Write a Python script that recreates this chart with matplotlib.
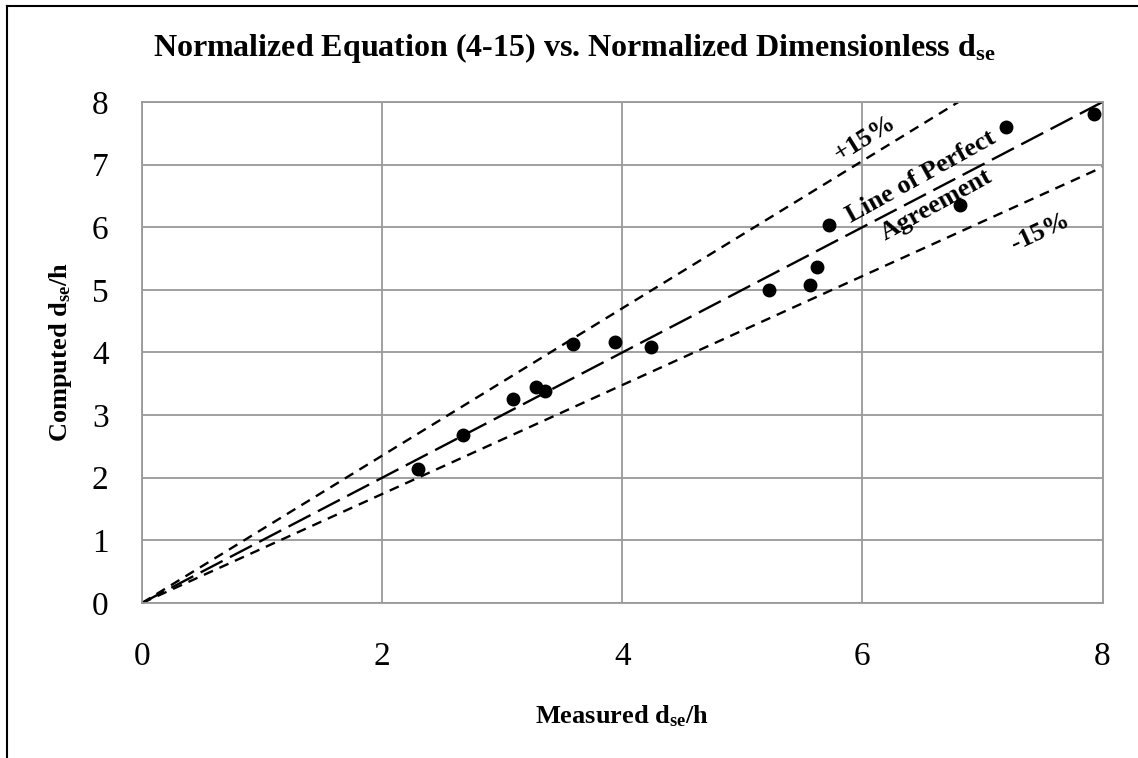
import matplotlib
matplotlib.use("Agg")
import matplotlib.pyplot as plt
from matplotlib.lines import Line2D

# measured vs computed d_se/h
measured = [2.30, 2.67, 3.09, 3.28, 3.36, 3.59, 3.94, 4.24, 5.22, 5.56, 5.62, 5.72, 6.81, 7.20, 7.93]
computed = [2.14, 2.68, 3.26, 3.45, 3.39, 4.14, 4.17, 4.08, 5.00, 5.08, 5.36, 6.04, 6.36, 7.60, 7.81]

# reference lines (end points)
perfect_x = [0, 8]
perfect_y = [0, 8]
plus15_x = [0, 6.8]
plus15_y = [0, 8]
minus15_x = [0, 8]
minus15_y = [0, 6.96]

ticks_x = [0, 2, 4, 6, 8]
ticks_y = [0, 1, 2, 3, 4, 5, 6, 7, 8]

plt.rcParams['font.family'] = ['Liberation Serif', 'DejaVu Serif']
plt.rcParams['mathtext.fontset'] = 'custom'
plt.rcParams['mathtext.rm'] = 'Liberation Serif'
plt.rcParams['mathtext.bf'] = 'Liberation Serif:bold'

W, H = 1138, 758
fig = plt.figure(figsize=(W / 100, H / 100), dpi=100)
ax = fig.add_axes([142 / W, 1 - 603 / H, (1102.5 - 142) / W, (603 - 102) / H])

grid_c = '#999999'
ax.grid(True, color=grid_c, lw=1.3)
ax.set_axisbelow(True)
for s in ax.spines.values():
    s.set_color(grid_c)
    s.set_linewidth(1.3)

ax.set_xlim(0, 8)
ax.set_ylim(0, 8)
ax.set_xticks(ticks_x)
ax.set_yticks(ticks_y)
ax.tick_params(length=0, labelsize=24)
ax.tick_params(axis='x', pad=28)
ax.tick_params(axis='y', pad=24)

ln, = ax.plot(perfect_x, perfect_y, color='black', lw=1.7, clip_on=False)
ln.set_dashes((10.5, 3.5))
ln, = ax.plot(plus15_x, plus15_y, color='black', lw=1.7, clip_on=False)
ln.set_dashes((4.2, 3.0))
ln, = ax.plot(minus15_x, minus15_y, color='black', lw=1.7, clip_on=False)
ln.set_dashes((4.2, 3.0))

ax.plot(measured, computed, 'o', color='black', ms=9, clip_on=False, zorder=5)

txt = dict(fontsize=19, fontweight='bold', ha='center', va='center', rotation_mode='anchor')
ax.text(6.02, 7.41, '+15%', rotation=32, **txt)
ax.text(6.49, 6.80, 'Line of Perfect', rotation=29, **txt)
ax.text(6.62, 6.36, 'Agreement', rotation=29, **txt)
ax.text(7.48, 5.93, '-15%', rotation=25, **txt)

fig.text(574 / W, 1 - 56 / H, r'Normalized Equation (4-15) vs. Normalized Dimensionless $\mathbf{d_{se}}$',
         fontsize=23, fontweight='bold', ha='center', va='baseline')
fig.text(622 / W, 1 - 723 / H, r'Measured $\mathbf{d_{se}}$/h',
         fontsize=19, fontweight='bold', ha='center', va='baseline')
fig.text(61 / W, 1 - 352 / H, r'Computed $\mathbf{d_{se}}$/h',
         fontsize=19, fontweight='bold', ha='center', va='center', rotation=90)

# chart frame (only left and top edges are visible)
fig.add_artist(Line2D([7 / W, 7 / W], [0, 1 - 6 / H], color='black', lw=1.5))
fig.add_artist(Line2D([7 / W, 1], [1 - 6 / H, 1 - 6 / H], color='black', lw=1.5))

fig.savefig('out.png', dpi=100)
